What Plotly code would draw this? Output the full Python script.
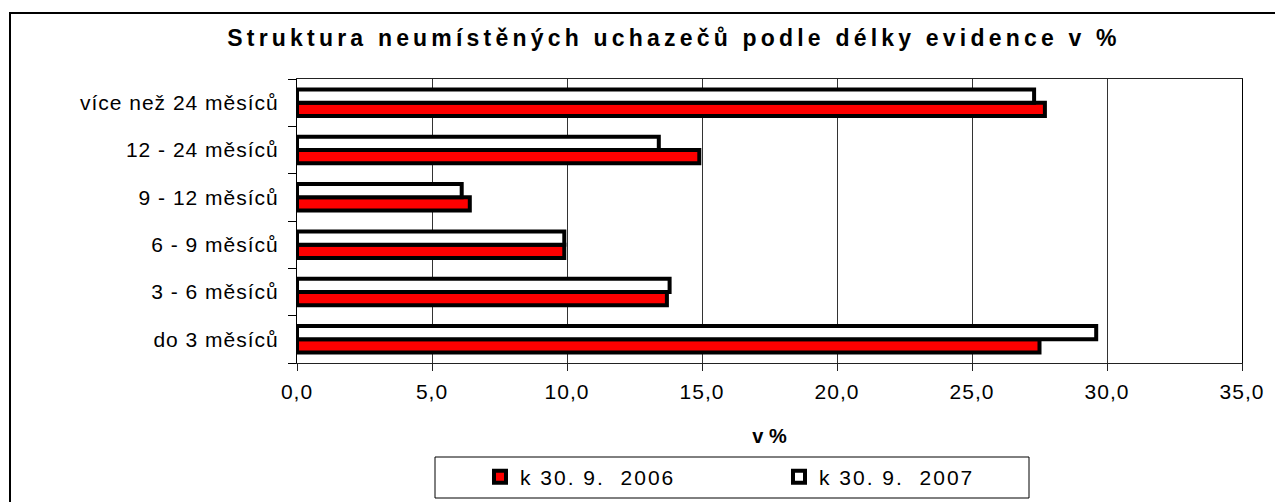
import plotly.graph_objects as go

# data
kategorie = ["do 3 měsíců", "3 - 6 měsíců", "6 - 9 měsíců", "9 - 12 měsíců",
             "12 - 24 měsíců", "více než 24 měsíců"]
rok_2006 = [27.5, 13.7, 9.9, 6.4, 14.9, 27.7]
rok_2007 = [29.6, 13.8, 9.9, 6.1, 13.4, 27.3]
nazvy = ["k 30. 9.  2006", "k 30. 9.  2007"]
x_ticks = [0, 5, 10, 15, 20, 25, 30, 35]

W, H = 1275, 502
L, R, T, B = 297, 33, 79, 139
font = "Liberation Sans, Arial, sans-serif"


def px_x(p):
    return (p - L) / (W - L - R)


def px_y(p):
    return (H - B - p) / (H - T - B)


fig = go.Figure()
fig.add_trace(go.Bar(y=kategorie, x=rok_2006, orientation="h", name=nazvy[0],
                     marker=dict(color="#FF0000", line=dict(color="black", width=4))))
fig.add_trace(go.Bar(y=kategorie, x=rok_2007, orientation="h", name=nazvy[1],
                     marker=dict(color="white", line=dict(color="black", width=4))))

fig.update_xaxes(range=[0, 35], tickvals=x_ticks, tickformat=".1f",
                 showgrid=True, gridcolor="#333333", gridwidth=1, zeroline=False,
                 showline=True, linecolor="#222222", linewidth=1, mirror=True,
                 ticks="outside", ticklen=7, tickcolor="#222222",
                 ticklabelstandoff=3,
                 tickfont=dict(family=font, size=21, color="black"),
                 title=dict(text="<b>v %</b>", standoff=26,
                            font=dict(family=font, size=20, color="black")),
                 automargin=False)
fig.update_yaxes(type="category", showgrid=False, zeroline=False,
                 showline=True, linecolor="black", linewidth=1, mirror=True,
                 ticks="outside", ticklen=8, tickson="boundaries", tickcolor="black",
                 ticklabelstandoff=13,
                 tickfont=dict(family=font, size=21, color="black"),
                 automargin=False)

# outer frame and legend box
fig.add_shape(type="rect", xref="paper", yref="paper",
              x0=px_x(10), x1=px_x(1340), y0=px_y(560), y1=px_y(13),
              line=dict(color="black", width=2), fillcolor="rgba(0,0,0,0)", layer="below")
fig.add_shape(type="rect", xref="paper", yref="paper",
              x0=px_x(435), x1=px_x(1029), y0=px_y(498), y1=px_y(457),
              line=dict(color="black", width=1), fillcolor="white", layer="below")

fig.update_layout(
    width=W, height=H, autosize=False,
    margin=dict(l=L, r=R, t=T, b=B),
    paper_bgcolor="white", plot_bgcolor="white",
    separators=", ",
    barmode="group", bargap=0.44, bargroupgap=0,
    title=dict(text="<b>Struktura neumístěných uchazečů podle délky evidence v %</b>",
               xref="container", x=674 / W, xanchor="center",
               yref="container", y=1 - 38 / H, yanchor="middle",
               font=dict(family=font, size=23, color="black")),
    legend=dict(orientation="h", xref="container", yref="container",
                x=480 / W, xanchor="left", y=1 - 477 / H, yanchor="middle",
                entrywidth=254, entrywidthmode="pixels",
                bgcolor="rgba(0,0,0,0)", borderwidth=0,
                font=dict(family=font, size=21, color="black")),
    showlegend=True,
)

css = ("body{margin:0}"
       ".gtitle{letter-spacing:4.2px}"
       ".xtick text,.ytick text{letter-spacing:1px}"
       ".legendtext{letter-spacing:2px}")
fig.write_html("out.html", config={"displayModeBar": False}, post_script=
               "var s=document.createElement('style');s.textContent='" + css +
               "';document.head.appendChild(s);")
